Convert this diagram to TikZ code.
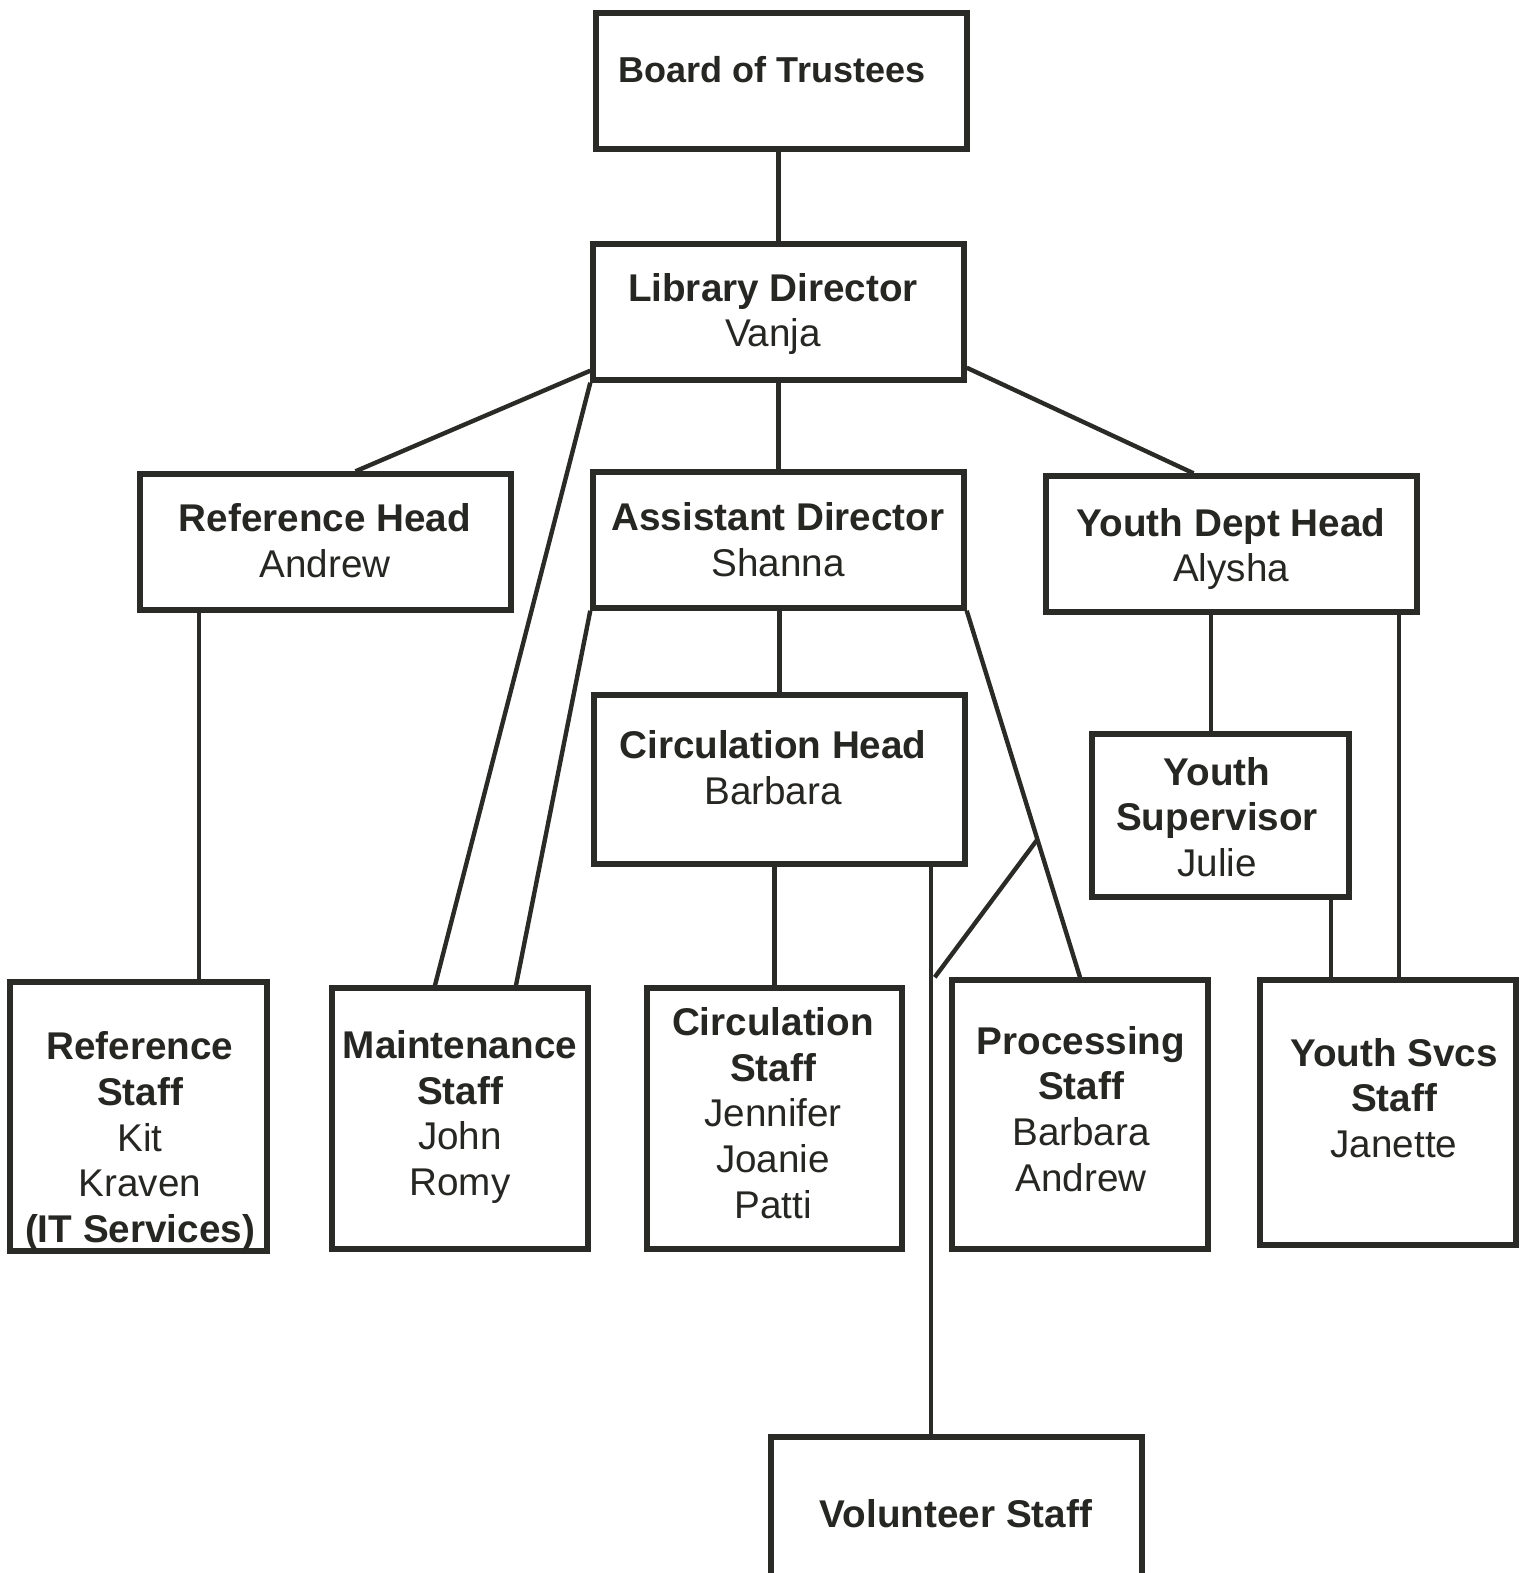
\documentclass[tikz,border=0pt]{standalone}
\usepackage{fontspec}
\setmainfont{Liberation Sans}
\usepackage{tikz}
\usetikzlibrary{calc,fit}
\usepackage{xcolor}
\definecolor{ink}{HTML}{2A2A27}
\tikzset{
  box/.style={draw=ink, line width=3.1pt, fill=white, inner sep=0pt},
  link/.style={draw=ink, line width=2.5pt},
  tag/.style={align=center, text=ink!90!black, inner sep=0pt}
}

\begin{document}
\begin{tikzpicture}[font=\fontsize{22}{26}\selectfont, x=0.02cm, y=-0.02cm]
  \useasboundingbox (0,0) rectangle (1530,1573);

  \node[box, fit={(596,13) (967,149)}] (board) {};
  \node[box, fit={(593,244) (964,380)}] (ld) {};
  \node[box, fit={(140,474) (511,610)}] (refhead) {};
  \node[box, fit={(593,472) (964,608)}] (ad) {};
  \node[box, fit={(1046,476) (1417,612)}] (ydh) {};
  \node[box, fit={(594,695) (965,864)}] (circhead) {};
  \node[box, fit={(1092,734) (1349,897)}] (ysup) {};
  \node[box, fit={(10,982) (267,1251)}] (refstaff) {};
  \node[box, fit={(332,988) (588,1249)}] (maint) {};
  \node[box, fit={(647,988) (902,1249)}] (circstaff) {};
  \node[box, fit={(952,980) (1208,1249)}] (proc) {};
  \node[box, fit={(1260,980) (1516,1245)}] (ysvcs) {};
  \node[box, fit={(771,1437) (1142,1610)}] (vol) {};

  \node[tag, font=\fontsize{20.5}{26}\selectfont] (board-t) at (772,70) {\textbf{Board of Trustees}};
  \node[tag] (ld-t) at (773,314) {\textbf{Library Director}\\Vanja};
  \node[tag] (refhead-t) at (325,541) {\textbf{Reference Head}\\Andrew};
  \node[tag] (ad-t) at (778,540) {\textbf{Assistant Director}\\Shanna};
  \node[tag] (ydh-t) at (1231,549) {\textbf{Youth Dept Head}\\Alysha};
  \node[tag] (circhead-t) at (773,768) {\textbf{Circulation Head}\\Barbara};
  \node[tag] (ysup-t) at (1217,817) {\textbf{Youth}\\\textbf{Supervisor}\\Julie};
  \node[tag] (refstaff-t) at (140,1141) {\textbf{Reference}\\\textbf{Staff}\\Kit\\Kraven\\\textbf{(IT Services)}};
  \node[tag] (maint-t) at (460,1117) {\textbf{Maintenance}\\\textbf{Staff}\\John\\Romy};
  \node[tag] (circstaff-t) at (773,1113) {\textbf{Circulation}\\\textbf{Staff}\\Jennifer\\Joanie\\Patti};
  \node[tag] (proc-t) at (1081,1109) {\textbf{Processing}\\\textbf{Staff}\\Barbara\\Andrew};
  \node[tag] (ysvcs-t) at (1394,1098) {\textbf{Youth Svcs}\\\textbf{Staff}\\Janette};
  \node[tag] (vol-t) at (956,1514) {\textbf{Volunteer Staff}};

  \draw[link] (ld.north |- board.south) -- (ld.north);
  \draw[link] (ld.south) -- (ad.north);
  \draw[link] ($(ld.south west)+(0,-12)$) -- ($(refhead.north)+(30,0)$);
  \draw[link] (ld.south west) -- ($(maint.north)+(-25,0)$);
  \draw[link] ($(ld.south east)+(0,-15)$) -- ($(ydh.north)+(-38,0)$);
  \draw[link] (ad.south west) -- ($(maint.north)+(56,0)$);
  \draw[link] (circhead.north |- ad.south) -- (circhead.north);
  \draw[link] (ad.south east) -- coordinate[pos=0.624] (pj) (proc.north);

  \coordinate (rh-drop) at ($(refhead.south west)+(62,0)$);
  \draw[link] (rh-drop) -- (rh-drop |- refstaff.north);
  \draw[link] (circstaff.north |- circhead.south) -- (circstaff.north);
  \coordinate (ch-drop) at ($(circhead.south east)+(-37,0)$);
  \draw[link] (ch-drop) -- (ch-drop |- vol.north);
  \coordinate (vj) at ($(ch-drop |- proc.north)+(4,0)$);
  \draw[link] (pj) -- (vj);

  \coordinate (ydh-drop) at ($(ydh.south west)+(168,0)$);
  \draw[link] (ydh-drop) -- (ydh-drop |- ysup.north);
  \coordinate (ydh-drop2) at ($(ydh.south east)+(-21,0)$);
  \draw[link] (ydh-drop2) -- (ydh-drop2 |- ysvcs.north);
  \coordinate (ysup-drop) at ($(ysup.south east)+(-21,0)$);
  \draw[link] (ysup-drop) -- (ysup-drop |- ysvcs.north);
\end{tikzpicture}
\end{document}
